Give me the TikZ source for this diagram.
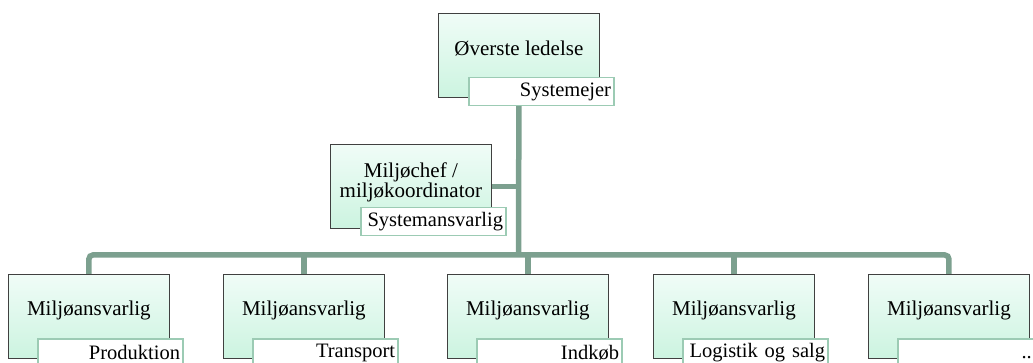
\documentclass[tikz,border=0pt]{standalone}
\usepackage{fontspec}
\setmainfont{Liberation Serif}
\pgfdeclarelayer{bg}
\pgfsetlayers{bg,main}
\definecolor{boxborder}{HTML}{404040}
\definecolor{boxtop}{HTML}{F0FCF7}
\definecolor{boxbot}{HTML}{CCF4E0}
\definecolor{tagborder}{HTML}{9CCBB4}
\definecolor{linecol}{HTML}{7CA08F}
\begin{document}
\begin{tikzpicture}[x=1pt,y=-1pt,
  box/.style={draw=boxborder, line width=0.8pt, top color=boxtop, bottom color=boxbot,
    minimum width=161pt, minimum height=84pt, inner sep=0pt, anchor=north west},
  tag/.style={draw=tagborder, line width=1.5pt, fill=white, minimum height=28pt,
    text width=139pt, inner xsep=3pt, inner ysep=0pt, align=right, anchor=north east,
    font=\fontsize{20.5}{21}\selectfont},
  txt/.style={font=\fontsize{21}{20}\selectfont, align=center, inner sep=0pt},
  conn/.style={draw=linecol, line width=5.5pt, rounded corners=4pt}]
\useasboundingbox (0,0) rectangle (1033,363);
\clip (0,0) rectangle (1033,363);
% boxes
\node[box] (top) at (438,13) {};
\node[box] (mid) at (330,144) {};
\node[box] (b1) at (8,274) {};
\node[box] (b2) at (223,274) {};
\node[box] (b3) at (447,274) {};
\node[box] (b4) at (653,274) {};
\node[box] (b5) at (868,274) {};
% texts
\node[txt] (ttop) at ([yshift=7pt]top.center) {Øverste ledelse};
\node[txt] (tmid) at ([yshift=4pt]mid.center) {Miljøchef /\\miljøkoordinator};
\node[txt] (t1) at ([yshift=6pt]b1.center) {Miljøansvarlig};
\node[txt] (t2) at ([yshift=6pt]b2.center) {Miljøansvarlig};
\node[txt] (t3) at ([yshift=6pt]b3.center) {Miljøansvarlig};
\node[txt] (t4) at ([yshift=6pt]b4.center) {Miljøansvarlig};
\node[txt] (t5) at ([yshift=6pt]b5.center) {Miljøansvarlig};
% tags
\node[tag] (gtop) at ([xshift=15pt,yshift=-64pt]top.north east) {Systemejer};
\node[tag] (gmid) at ([xshift=15pt,yshift=-63pt]mid.north east) {Systemansvarlig};
\node[tag] (g1) at ([xshift=14pt,yshift=-64pt]b1.north east) {Produktion};
\node[tag] (g2) at ([xshift=14pt,yshift=-64pt]b2.north east) {Transport};
\node[tag] (g3) at ([xshift=14pt,yshift=-64pt]b3.north east) {Indkøb};
\node[tag] (g4) at ([xshift=14pt,yshift=-64pt]b4.north east) {Logistik og salg};
\node[tag] (g5) at ([xshift=14pt,yshift=-64pt]b5.north east) {};
\node[font=\fontsize{20.5}{21}\selectfont, inner sep=0pt, anchor=base east] (d5) at (1032,358) {..};
% connectors
\coordinate (hub) at (518.5,255);
\begin{pgfonlayer}{bg}
\draw[conn] (top.south) -- (hub);
\draw[conn] (mid.east) -- (mid.east -| hub);
\draw[conn] (b1.north) -- (b1.north |- hub) -- (b5.north |- hub) -- (b5.north);
\draw[conn] (b2.north |- hub) -- (b2.north);
\draw[conn] (b3.north |- hub) -- (b3.north);
\draw[conn] (b4.north |- hub) -- (b4.north);
\end{pgfonlayer}
\end{tikzpicture}
\end{document}
